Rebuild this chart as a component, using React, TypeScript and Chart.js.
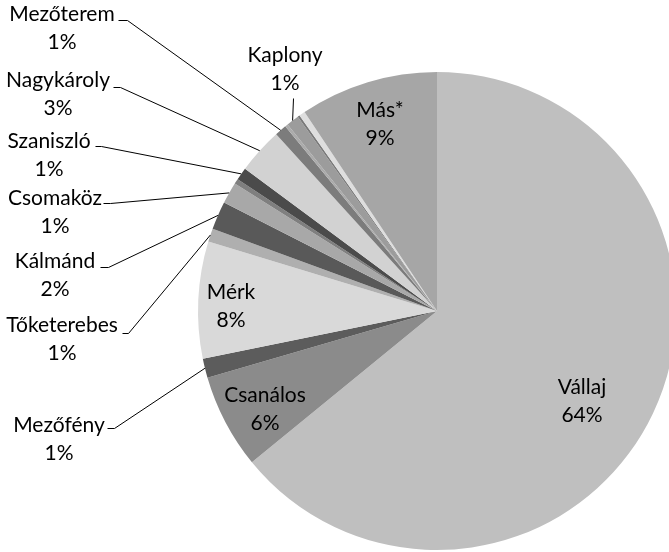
import React, { useEffect, useRef } from "react";
import { Chart, registerables } from "chart.js";

Chart.register(...registerables);

// ---- data (clockwise from 12 o'clock) ----
const categories = [
  "Vállaj", "Csanálos", "Mezőfény", "Mérk", "Tőketerebes", "Kálmánd", "Csomaköz", "",
  "Szaniszló", "Nagykároly", "Mezőterem", "", "Kaplony", "", "", "Más*",
];
const shares = [64.1, 6.4, 1.3, 7.9, 0.9, 1.9, 1.45, 0.35, 0.85, 3.1, 0.8, 0.2, 0.85, 0.15, 0.4, 9.35];
const sliceColors = [
  "#bfbfbf", "#8b8b8b", "#5c5c5c", "#d9d9d9", "#afafaf", "#595959", "#a8a8a8", "#7f7f7f",
  "#4b4b4b", "#d2d2d2", "#7c7c7c", "#ababab", "#9c9c9c", "#7a7a7a", "#dedede", "#a6a6a6",
];

// ---- label layout (text centre x, first line centre y, leader start points) ----
type Lab = { x: number; y: number; leader?: number[][] };
const labelLayout: Record<string, Lab> = {
  "Vállaj": { x: 582, y: 387 },
  "Csanálos": { x: 265, y: 395 },
  "Mérk": { x: 231, y: 292 },
  "Más*": { x: 380, y: 110 },
  "Kaplony": { x: 285, y: 55, leader: [[293, 98]] },
  "Mezőterem": { x: 62, y: 14, leader: [[118, 20], [127, 20]] },
  "Nagykároly": { x: 58, y: 80, leader: [[113, 87], [120, 87]] },
  "Szaniszló": { x: 49, y: 141, leader: [[95, 146], [101, 146]] },
  "Csomaköz": { x: 55, y: 198, leader: [[103, 203], [110, 203]] },
  "Kálmánd": { x: 55, y: 261, leader: [[100, 267], [108, 267]] },
  "Tőketerebes": { x: 62, y: 325, leader: [[122, 333], [128, 333]] },
  "Mezőfény": { x: 59, y: 425, leader: [[107, 428], [114, 428]] },
};
const LINE_GAP = 28;
const FONT = "21px Lato, 'Open Sans', sans-serif";

const labelPlugin = {
  id: "pieLabels",
  afterDatasetsDraw(chart: any) {
    const ctx = chart.ctx;
    const meta = chart.getDatasetMeta(0);
    const total = shares.reduce((a, b) => a + b, 0);
    ctx.save();
    meta.data.forEach((arc: any, i: number) => {
      const name = categories[i];
      const lay = labelLayout[name];
      if (!name || !lay) return;
      const p = arc.getProps(["x", "y", "startAngle", "endAngle", "outerRadius"], true);
      const mid = (p.startAngle + p.endAngle) / 2;
      if (lay.leader) {
        const ex = p.x + p.outerRadius * Math.cos(mid);
        const ey = p.y + p.outerRadius * Math.sin(mid);
        ctx.beginPath();
        ctx.strokeStyle = "#000";
        ctx.lineWidth = 1;
        ctx.moveTo(lay.leader[0][0] + 0.5, lay.leader[0][1] + 0.5);
        for (let k = 1; k < lay.leader.length; k++) ctx.lineTo(lay.leader[k][0] + 0.5, lay.leader[k][1] + 0.5);
        ctx.lineTo(ex, ey);
        ctx.stroke();
      }
      ctx.fillStyle = "#000";
      ctx.font = FONT;
      ctx.textAlign = "center";
      ctx.textBaseline = "middle";
      ctx.fillText(name, lay.x, lay.y);
      ctx.fillText(Math.round((shares[i] / total) * 100) + "%", lay.x, lay.y + LINE_GAP);
    });
    ctx.restore();
  },
};

export default function App() {
  const ref = useRef<HTMLCanvasElement | null>(null);
  useEffect(() => {
    if (!ref.current) return;
    const chart = new Chart(ref.current, {
      type: "pie",
      data: {
        labels: categories,
        datasets: [
          {
            data: shares,
            backgroundColor: sliceColors,
            borderWidth: 0,
          },
        ],
      },
      options: {
        animation: false,
        responsive: false,
        devicePixelRatio: 1,
        layout: { padding: { left: 198, top: 72, right: 24, bottom: 10 } },
        plugins: { legend: { display: false }, tooltip: { enabled: false } },
      },
      plugins: [labelPlugin],
    });
    return () => chart.destroy();
  }, []);
  return (
    <div style={{ position: "fixed", left: 0, top: 0, width: 669, height: 552, overflow: "hidden", background: "#fff" }}>
      <canvas ref={ref} width={700} height={560} style={{ width: 700, height: 560, display: "block" }} />
    </div>
  );
}
